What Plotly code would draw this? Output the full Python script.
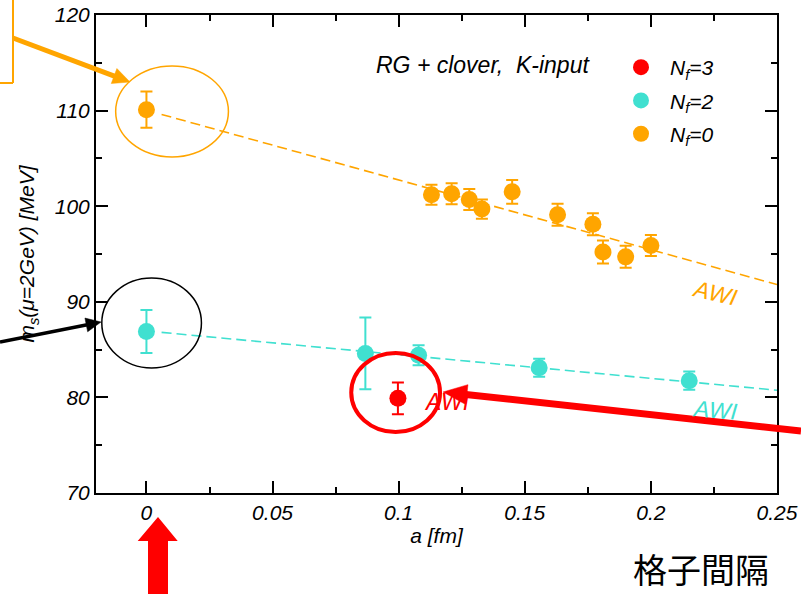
import math
import plotly.graph_objects as go

# ---------------- data ----------------
nf0_a = [0.0, 0.113, 0.121, 0.128, 0.133, 0.145, 0.163, 0.177, 0.181, 0.190, 0.200]
nf0_ms = [110.1, 101.2, 101.3, 100.7, 99.7, 101.5, 99.1, 98.1, 95.2, 94.7, 95.9]
nf0_err = [1.9, 1.05, 1.1, 1.1, 1.0, 1.25, 1.15, 1.15, 1.2, 1.15, 1.1]

nf2_a = [0.0, 0.0868, 0.1079, 0.1557, 0.2152]
nf2_ms = [86.9, 84.6, 84.4, 83.1, 81.75]
nf2_err = [2.25, 3.75, 1.05, 0.95, 0.95]

nf3_a = [0.0997]
nf3_ms = [79.9]
nf3_err = [1.65]

fit_a = [0.006, 0.25]
nf0_fit = [109.6, 91.8]
nf2_fit = [86.8, 80.75]

x_ticks = [0, 0.05, 0.1, 0.15, 0.2, 0.25]
x_ticklabels = ["0", "0.05", "0.1", "0.15", "0.2", "0.25"]
y_ticks = [70, 80, 90, 100, 110, 120]

ORANGE = "#FFA500"
CYAN = "#40E0D0"
RED = "#FF0000"
FONT = "Liberation Sans"

W, H = 801, 594
L, R, T, B = 96, 777, 15, 493  # plot area in pixels


def px(xp, yp):
    """pixel -> paper coordinates"""
    return (xp - L) / (R - L), (B - yp) / (B - T)


fig = go.Figure()

# fit lines
fig.add_trace(go.Scatter(x=fit_a, y=nf0_fit, mode="lines", showlegend=False,
                         line=dict(color=ORANGE, width=1.6, dash="10px,5px"), hoverinfo="skip"))
fig.add_trace(go.Scatter(x=fit_a, y=nf2_fit, mode="lines", showlegend=False,
                         line=dict(color=CYAN, width=1.6, dash="10px,5px"), hoverinfo="skip"))


def pts(a, m, e, color, name, grp):
    return go.Scatter(
        x=a, y=m, mode="markers", name=name, legendgroup=grp,
        marker=dict(color=color, size=17),
        error_y=dict(type="data", array=e, visible=True, color=color, thickness=2, width=6),
    )


fig.add_trace(pts(nf3_a, nf3_ms, nf3_err, RED, "N<sub>f</sub>=3", "g3"))
fig.add_trace(pts(nf2_a, nf2_ms, nf2_err, CYAN, "N<sub>f</sub>=2", "g2"))
fig.add_trace(pts(nf0_a, nf0_ms, nf0_err, ORANGE, "N<sub>f</sub>=0", "g0"))

shapes = []

# ellipses around the a=0 / highlighted points (data coordinates)
shapes.append(dict(type="circle", xref="x", yref="y", x0=-0.0122, x1=0.0325, y0=105.15, y1=114.67,
                   line=dict(color=ORANGE, width=1.5)))
shapes.append(dict(type="circle", xref="x", yref="y", x0=-0.0177, x1=0.0218, y0=83.08, y1=92.5,
                   line=dict(color="black", width=1.5)))
shapes.append(dict(type="circle", xref="x", yref="y", x0=0.0812, x1=0.1164, y0=76.38, y1=84.64,
                   line=dict(color=RED, width=4)))


def arrow(x0, y0, x1, y1, color, width, head_len, head_half):
    dx, dy = x1 - x0, y1 - y0
    n = math.hypot(dx, dy)
    ux, uy = dx / n, dy / n
    bx, by = x1 - head_len * ux, y1 - head_len * uy
    pxv, pyv = -uy, ux
    a = px(x0, y0)
    b = px(bx + ux * 1.0, by + uy * 1.0)
    shapes.append(dict(type="line", xref="paper", yref="paper", x0=a[0], y0=a[1], x1=b[0], y1=b[1],
                       line=dict(color=color, width=width), layer="above"))
    p1 = px(x1, y1)
    p2 = px(bx + head_half * pxv, by + head_half * pyv)
    p3 = px(bx - head_half * pxv, by - head_half * pyv)
    path = f"M {p1[0]} {p1[1]} L {p2[0]} {p2[1]} L {p3[0]} {p3[1]} Z"
    shapes.append(dict(type="path", xref="paper", yref="paper", path=path,
                       fillcolor=color, line=dict(color=color, width=0.5), layer="above"))


arrow(13, 38, 130, 82, ORANGE, 5, 17, 8)
arrow(0, 342, 101, 322, "black", 3.5, 15, 7)
arrow(801, 431, 443, 392, RED, 7, 24, 10)

# orange box fragment (top-left)
a, b = px(13, -5), px(13, 83)
shapes.append(dict(type="line", xref="paper", yref="paper", x0=a[0], y0=a[1], x1=b[0], y1=b[1],
                   line=dict(color=ORANGE, width=2)))
a, b = px(-5, 83), px(13, 83)
shapes.append(dict(type="line", xref="paper", yref="paper", x0=a[0], y0=a[1], x1=b[0], y1=b[1],
                   line=dict(color=ORANGE, width=2)))

# big red up arrow at the bottom
poly = [(148, 600), (148, 541), (137.7, 541), (158, 517), (177.7, 541), (168, 541), (168, 600)]
pp = [px(*p) for p in poly]
path = "M " + " L ".join(f"{p[0]} {p[1]}" for p in pp) + " Z"
shapes.append(dict(type="path", xref="paper", yref="paper", path=path, fillcolor=RED,
                   line=dict(color=RED, width=0), layer="above"))

annotations = []


def note(text, xp, yp, color, size, angle=0, family=FONT, style="italic", yanchor="middle"):
    p = px(xp, yp)
    annotations.append(dict(text=text, xref="paper", yref="paper", x=p[0], y=p[1],
                            xanchor="center", yanchor=yanchor, showarrow=False, textangle=angle,
                            font=dict(family=family, size=size, color=color, style=style)))


note("RG + clover,\u00a0\u00a0K-input", 483, 65, "black", 23)
note("AWI", 715, 293, ORANGE, 23, angle=13)
note("AWI", 715, 410, CYAN, 23, angle=5)
note("AWI", 447, 402, RED, 23)
note("格子間隔", 701, 595, "black", 34, family="Noto Sans CJK JP", style="normal", yanchor="bottom")

tickfont = dict(family=FONT, size=21, color="black", style="italic")
titlefont = dict(family=FONT, size=21, color="black", style="italic")

fig.update_layout(
    width=W, height=H,
    margin=dict(l=L, r=W - R, t=T, b=H - B, autoexpand=False),
    paper_bgcolor="white", plot_bgcolor="white",
    shapes=shapes, annotations=annotations,
    showlegend=True,
    legend=dict(x=px(612, 0)[0], y=px(0, 47)[1], xanchor="left", yanchor="top",
                bgcolor="rgba(0,0,0,0)", itemwidth=48, tracegroupgap=3,
                font=dict(family=FONT, size=21, color="black", style="italic")),
    xaxis=dict(range=[-0.02, 0.25], tickvals=x_ticks, ticktext=x_ticklabels, automargin=False,
               ticks="inside", ticklen=12, tickwidth=2, tickcolor="black",
               minor=dict(ticks="inside", ticklen=6, tickwidth=1.5, tickcolor="black", dtick=0.025, tick0=0),
               showline=True, linewidth=2, linecolor="black", mirror="allticks",
               showgrid=False, zeroline=False, tickfont=tickfont,
               title=dict(text="a [fm]", font=titlefont, standoff=0)),
    yaxis=dict(range=[70, 120], tickvals=y_ticks, automargin=False,
               ticks="inside", ticklen=12, tickwidth=2, tickcolor="black",
               minor=dict(ticks="inside", ticklen=6, tickwidth=1.5, tickcolor="black", dtick=5, tick0=70),
               showline=True, linewidth=2, linecolor="black", mirror="allticks",
               showgrid=False, zeroline=False, tickfont=tickfont,
               title=dict(text="m<sub>s</sub>(μ=2GeV) [MeV]", font=titlefont, standoff=14)),
)

fig.write_html("out.html")
